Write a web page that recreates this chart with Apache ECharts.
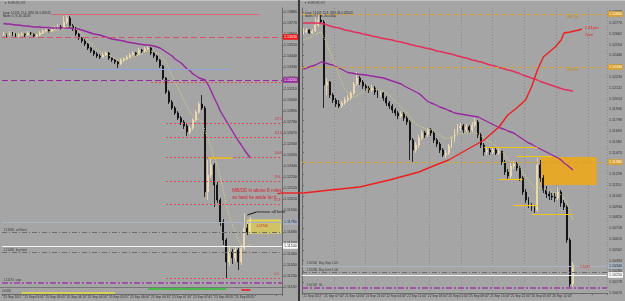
<!DOCTYPE html>
<html><head><meta charset="utf-8">
<script src="https://cdn.jsdelivr.net/npm/echarts@6/dist/echarts.min.js"></script>
<style>html,body{margin:0;padding:0;background:#a5a5a5;overflow:hidden}#c{width:625px;height:301px}</style>
</head><body><div id="c"></div><script>
// ---------------- DATA ----------------
// Left panel (EURUSD M5): [open, close, low, high]
const leftCandles = [
[1.1365,1.1366,1.1364,1.1368],[1.1366,1.1365,1.1363,1.1367],[1.1365,1.1367,1.1364,1.1369],[1.1367,1.1366,1.1364,1.1368],
[1.1366,1.1364,1.1362,1.1367],[1.1364,1.1365,1.1363,1.1367],[1.1365,1.1366,1.1364,1.1368],[1.1366,1.1365,1.1363,1.1367],
[1.1365,1.1367,1.1364,1.1369],[1.1367,1.1366,1.1365,1.1368],[1.1366,1.1364,1.1362,1.1367],[1.1364,1.1365,1.1363,1.1366],
[1.1365,1.1367,1.1364,1.1369],[1.1367,1.1369,1.1366,1.1371],[1.1369,1.1370,1.1368,1.1372],[1.1370,1.1369,1.1367,1.1371],
[1.1369,1.1371,1.1368,1.1373],[1.1371,1.1372,1.1370,1.1374],[1.1372,1.1373,1.1371,1.1376],[1.1373,1.1372,1.1370,1.1375],
[1.1372,1.1378,1.1371,1.1384],[1.1378,1.1382,1.1376,1.1385],[1.1382,1.1374,1.1372,1.1384],[1.1374,1.1372,1.1369,1.1376],
[1.1372,1.1366,1.1364,1.1373],[1.1366,1.1362,1.1360,1.1367],[1.1362,1.1359,1.1357,1.1363],[1.1359,1.1356,1.1354,1.1361],
[1.1356,1.1352,1.1350,1.1357],[1.1352,1.1349,1.1347,1.1353],[1.1349,1.1346,1.1344,1.1350],[1.1346,1.1344,1.1342,1.1348],
[1.1344,1.1343,1.1341,1.1346],[1.1343,1.1345,1.1342,1.1347],[1.1345,1.1347,1.1344,1.1349],[1.1347,1.1342,1.1340,1.1348],
[1.1342,1.1340,1.1338,1.1343],[1.1340,1.1338,1.1336,1.1341],[1.1338,1.1336,1.1332,1.1339],[1.1336,1.1340,1.1335,1.1342],
[1.1340,1.1341,1.1338,1.1343],[1.1341,1.1343,1.1340,1.1345],[1.1343,1.1345,1.1342,1.1347],[1.1345,1.1347,1.1344,1.1349],
[1.1347,1.1346,1.1344,1.1348],[1.1346,1.1350,1.1345,1.1352],[1.1350,1.1349,1.1347,1.1351],[1.1349,1.1351,1.1348,1.1353],
[1.1351,1.1352,1.1350,1.1354],[1.1352,1.1347,1.1345,1.1353],[1.1347,1.1344,1.1342,1.1348],[1.1344,1.1340,1.1338,1.1345],
[1.1340,1.1334,1.1332,1.1341],[1.1334,1.1322,1.1320,1.1335],[1.1322,1.1308,1.1306,1.1323],[1.1308,1.1298,1.1296,1.1310],
[1.1298,1.1292,1.1290,1.1300],[1.1292,1.1287,1.1285,1.1294],[1.1287,1.1282,1.1280,1.1289],[1.1282,1.1278,1.1275,1.1284],
[1.1278,1.1274,1.1271,1.1280],[1.1274,1.1268,1.1264,1.1276],[1.1268,1.1272,1.1266,1.1274],[1.1272,1.1280,1.1270,1.1282],
[1.1280,1.1288,1.1278,1.1290],[1.1288,1.1296,1.1286,1.1298],[1.1296,1.1292,1.1290,1.1305],[1.1292,1.1208,1.1203,1.1294],
[1.1208,1.1225,1.1200,1.1240],[1.1225,1.1235,1.1222,1.1242],[1.1235,1.1215,1.1193,1.1237],[1.1215,1.1200,1.1197,1.1218],
[1.1200,1.1178,1.1174,1.1202],[1.1178,1.1160,1.1155,1.1181],[1.1160,1.1138,1.1122,1.1162],[1.1138,1.1148,1.1134,1.1153],
[1.1148,1.1142,1.1136,1.1151],[1.1142,1.1150,1.1138,1.1154],[1.1150,1.1138,1.1130,1.1152],[1.1138,1.1152,1.1135,1.1155],
[1.1152,1.1172,1.1150,1.1187],[1.1172,1.1168,1.1165,1.1176],[1.1168,1.1180,1.1166,1.1183]
];
const leftSlowMA = [
1.13765,1.1376,1.1376,1.13755,1.1375,1.1375,1.13745,1.1374,1.1374,1.13735,1.1373,1.1373,1.1373,1.13725,1.13725,1.13725,
1.1372,1.1372,1.1372,1.1372,1.1372,1.1372,1.1372,1.13715,1.1371,1.1371,1.1370,1.1369,1.1368,1.1367,1.1366,1.13655,
1.1365,1.1364,1.1363,1.1362,1.1361,1.13605,1.1360,1.13595,1.1359,1.1358,1.13575,1.1357,1.13565,1.1356,1.13555,1.1355,
1.1355,1.13545,1.1354,1.1353,1.1352,1.1350,1.1348,1.1346,1.1344,1.1341,1.1339,1.1337,1.1334,1.1331,1.1329,1.1326,
1.1324,1.1322,1.1321,1.1320,1.1315,1.1309,1.1302,1.1296,1.1289,1.1284,1.1279,1.1274,1.1269,1.1264,1.1259,1.1255,
1.1250,1.1246,1.1242
];
const leftFastMA = [
1.1366,1.1366,1.1366,1.1366,1.1366,1.1366,1.1366,1.1366,1.1366,1.1366,1.1366,1.1366,1.1366,1.1367,1.1368,1.1368,
1.1369,1.1369,1.1370,1.1370,1.1372,1.1373,1.1374,1.1373,1.1371,1.1369,1.1366,1.1363,1.1360,1.1357,1.1354,1.1351,
1.1349,1.1347,1.1346,1.1345,1.1343,1.1342,1.1340,1.1340,1.1340,1.1341,1.1342,1.1343,1.1344,1.1345,1.1346,1.1348,
1.1349,1.1349,1.1348,1.1347,1.1345,1.1342,1.1337,1.1331,1.1325,1.1318,1.1312,1.1305,1.1299,1.1293,1.1288,1.1284,
1.1282,1.1280,1.1279,1.1268,1.1260,1.1252,1.1243,1.1234,1.1223,1.1210,1.1195,1.1184,1.1175,1.1167,1.1160,1.1155,
1.1153,1.1154,1.1156
];
const leftTimeLabels = ['25 Sep 2017','25 Sep 03:05','25 Sep 03:40','25 Sep 04:15','25 Sep 04:50','25 Sep 05:25',
  '25 Sep 06:00','25 Sep 06:35','25 Sep 07:10','25 Sep 07:45','25 Sep 08:20','25 Sep 08:55'];
const leftPriceTicks = [1.1113,1.1124,1.1135,1.1146,1.1157,1.1168,1.1179,1.1190,1.1201,1.1212,1.1223,1.1234,1.1245,
  1.1256,1.1267,1.1278,1.1289,1.1300,1.1311,1.1322,1.1333,1.1344,1.1355,1.1366,1.1377,1.1388];
const leftFibLevels = [1.1277,1.1263,1.1243,1.1219,1.1196,1.1122];
const leftFibNames = ['127.2','114.6','100.0','78.6','61.8','0.0'];

// Right panel (EURUSD H1): [open, close, low, high]
const rightCandles = [
[1.1266,1.1268,1.1265,1.1272],[1.1268,1.1270,1.1267,1.1272],[1.1270,1.1267,1.1266,1.1271],[1.1267,1.1269,1.1266,1.1271],
[1.1269,1.1275,1.1268,1.1283],[1.1275,1.1280,1.1273,1.1285],[1.1280,1.1278,1.1276,1.1286],[1.1278,1.1215,1.1192,1.1280],
[1.1215,1.1218,1.1205,1.1222],[1.1218,1.1205,1.1202,1.1219],[1.1205,1.1200,1.1197,1.1207],[1.1200,1.1196,1.1193,1.1202],
[1.1196,1.1194,1.1192,1.1200],[1.1194,1.1197,1.1192,1.1199],[1.1197,1.1200,1.1195,1.1203],[1.1200,1.1202,1.1198,1.1205],
[1.1202,1.1207,1.1200,1.1209],[1.1207,1.1216,1.1205,1.1218],[1.1216,1.1222,1.1214,1.1228],[1.1222,1.1218,1.1215,1.1224],
[1.1218,1.1214,1.1211,1.1220],[1.1214,1.1212,1.1209,1.1216],[1.1212,1.1210,1.1207,1.1214],[1.1210,1.1212,1.1208,1.1215],
[1.1212,1.1208,1.1205,1.1214],[1.1208,1.1205,1.1202,1.1210],[1.1205,1.1207,1.1203,1.1209],[1.1207,1.1202,1.1199,1.1208],
[1.1202,1.1197,1.1194,1.1204],[1.1197,1.1194,1.1191,1.1199],[1.1194,1.1190,1.1187,1.1196],[1.1190,1.1187,1.1184,1.1192],
[1.1187,1.1184,1.1181,1.1189],[1.1184,1.1186,1.1182,1.1189],[1.1186,1.1182,1.1179,1.1188],[1.1182,1.1178,1.1175,1.1184],
[1.1178,1.1160,1.1140,1.1180],[1.1160,1.1150,1.1138,1.1162],[1.1150,1.1155,1.1147,1.1158],[1.1155,1.1162,1.1152,1.1165],
[1.1162,1.1167,1.1160,1.1170],[1.1167,1.1165,1.1162,1.1169],[1.1165,1.1170,1.1163,1.1172],[1.1170,1.1167,1.1164,1.1172],
[1.1167,1.1160,1.1157,1.1169],[1.1160,1.1156,1.1153,1.1162],[1.1156,1.1150,1.1147,1.1158],[1.1150,1.1145,1.1143,1.1152],
[1.1145,1.1147,1.1142,1.1150],[1.1147,1.1154,1.1145,1.1156],[1.1154,1.1160,1.1152,1.1163],[1.1160,1.1168,1.1158,1.1171],
[1.1168,1.1172,1.1166,1.1176],[1.1172,1.1174,1.1169,1.1177],[1.1174,1.1170,1.1167,1.1176],[1.1170,1.1173,1.1168,1.1176],
[1.1173,1.1170,1.1167,1.1175],[1.1170,1.1175,1.1168,1.1178],[1.1175,1.1178,1.1173,1.1182],[1.1178,1.1165,1.1162,1.1180],
[1.1165,1.1155,1.1152,1.1167],[1.1155,1.1148,1.1144,1.1157],[1.1148,1.1150,1.1145,1.1153],[1.1150,1.1148,1.1145,1.1152],
[1.1148,1.1150,1.1146,1.1153],[1.1150,1.1147,1.1145,1.1152],[1.1147,1.1149,1.1145,1.1152],[1.1149,1.1138,1.1135,1.1150],
[1.1138,1.1128,1.1125,1.1140],[1.1128,1.1124,1.1121,1.1131],[1.1124,1.1134,1.1122,1.1137],[1.1134,1.1136,1.1131,1.1139],
[1.1136,1.1132,1.1129,1.1138],[1.1132,1.1122,1.1119,1.1134],[1.1122,1.1108,1.1105,1.1124],[1.1108,1.1100,1.1097,1.1111],
[1.1100,1.1095,1.1092,1.1103],[1.1095,1.1092,1.1089,1.1097],[1.1092,1.1090,1.1087,1.1094],[1.1090,1.1135,1.1088,1.1142],
[1.1135,1.1122,1.1118,1.1140],[1.1122,1.1110,1.1107,1.1125],[1.1110,1.1106,1.1102,1.1114],[1.1106,1.1104,1.1100,1.1109],
[1.1104,1.1103,1.1100,1.1107],[1.1103,1.1102,1.1098,1.1107],[1.1102,1.1108,1.1100,1.1113],[1.1108,1.1097,1.1093,1.1110],
[1.1097,1.1093,1.1090,1.1100],[1.1093,1.1060,1.1057,1.1095],[1.1060,1.1016,1.1013,1.1062],[1.1016,1.1035,1.1013,1.1038]
];
const rightLongMA = [
1.1277,1.1277,1.1277,1.1277,1.1277,1.1277,1.12765,1.1276,1.1275,1.1274,1.1273,1.12725,1.1272,1.1271,1.1270,1.12695,
1.1269,1.1268,1.12675,1.1267,1.1266,1.12655,1.1265,1.1264,1.12635,1.1263,1.1262,1.12615,1.1261,1.12605,1.1260,1.1259,
1.12585,1.1258,1.1257,1.12565,1.12555,1.1255,1.1254,1.12535,1.1253,1.1252,1.12515,1.1251,1.1250,1.1249,1.12485,1.1248,
1.1247,1.12465,1.1246,1.1245,1.1244,1.12435,1.12425,1.1242,1.1241,1.1240,1.12395,1.12385,1.1238,1.1237,1.1236,1.1235,
1.12345,1.12335,1.12325,1.1232,1.1231,1.1230,1.12295,1.12285,1.12275,1.12265,1.1225,1.1224,1.1223,1.1222,1.1221,1.1220,
1.12185,1.12175,1.12165,1.12155,1.12145,1.12135,1.12125,1.12115,1.12105,1.1210,1.12095,1.1209
];
const rightSlowMA = [
1.1231,1.1232,1.1233,1.1234,1.1235,1.12365,1.1238,1.12375,1.12365,1.12355,1.1235,1.12335,1.1232,1.12305,1.1229,1.12275,
1.1227,1.12265,1.1226,1.12255,1.12255,1.1225,1.12245,1.1224,1.12235,1.1223,1.12225,1.1222,1.1221,1.1220,1.1219,1.1218,
1.1217,1.1216,1.1214,1.12125,1.1211,1.12095,1.1208,1.12065,1.1204,1.1201,1.11985,1.1197,1.1196,1.11945,1.1193,1.1192,
1.1191,1.11895,1.11885,1.1187,1.11865,1.1186,1.11855,1.1185,1.11845,1.1184,1.11835,1.1183,1.11815,1.1180,1.11785,1.1177,
1.11755,1.1174,1.11725,1.11715,1.11705,1.1169,1.1168,1.1167,1.1165,1.1163,1.1161,1.1159,1.1157,1.1156,1.1154,1.11525,
1.1151,1.11495,1.1148,1.11465,1.1145,1.11435,1.1142,1.1140,1.1137,1.1135,1.11325,1.1130
];
const rightFastMA = [
1.1260,1.1261,1.1262,1.1263,1.1265,1.1267,1.1268,1.1262,1.1255,1.1248,1.1240,1.1232,1.1224,1.1217,1.1211,1.1207,
1.1204,1.1203,1.1204,1.1206,1.1208,1.1210,1.1211,1.1211,1.1211,1.1210,1.1210,1.1209,1.1207,1.1205,1.1202,1.1199,
1.1196,1.1193,1.1190,1.1187,1.1183,1.1179,1.1176,1.1174,1.1173,1.1172,1.1171,1.1170,1.1169,1.1167,1.1165,1.1163,
1.1162,1.1162,1.1163,1.1164,1.1165,1.1166,1.1166,1.1167,1.1167,1.1167,1.1167,1.1166,1.1164,1.1162,1.1160,1.1158,
1.1156,1.1154,1.1152,1.1149,1.1145,1.1141,1.1139,1.1137,1.1135,1.1132,1.1128,1.1124,1.1120,1.1116,1.1112,1.1112,
1.1112,1.1111,1.1110,1.1109,1.1108,1.1107,1.1107,1.1105,1.1102,1.1097,1.1088,1.1080
];
const rightTimeLabels = ['21 Sep 2017','21 Sep 07:00','21 Sep 14:00','21 Sep 21:00','22 Sep 04:00','22 Sep 11:00',
  '22 Sep 18:00','25 Sep 01:00','25 Sep 08:00','25 Sep 15:00','25 Sep 22:00','26 Sep 05:00','26 Sep 12:00'];
const rightPriceTicks = [1.10070,1.10178,1.10286,1.10394,1.10502,1.10610,1.10718,1.10826,1.10934,1.11042,1.11150,
  1.11258,1.11366,1.11474,1.11582,1.11690,1.11798,1.11906,1.12014,1.12122,1.12230,1.12338,1.12446,1.12554,1.12662,
  1.12770,1.12878];
// hand-drawn red projection path on the right panel: [bar index, price]
const rightRedPath = [[-0.5,1.1107],[8.9,1.1110],[18.9,1.1113],[28.9,1.1120],[39.0,1.1128],[43.3,1.1133],
  [49.0,1.1140],[54.7,1.1150],[61.4,1.1160],[65.7,1.1173],[69.1,1.1185],[72.4,1.1192],[74.7,1.1200],[76.8,1.1213],
  [79.1,1.1230],[81.4,1.1243],[84.8,1.1253],[86.5,1.1260],[87.5,1.1267],[90.1,1.1268],[92.5,1.1270],[94.2,1.1271]];
// where the same red line leaves the left panel: [bar index, price]
const leftRedStart = [90.8, 1.1207];

// ---------------- BUILD ----------------
const LEFT_N = 93, RIGHT_N = 103, LEFT_END = LEFT_N - 1;
const leftCats = Array.from({length: LEFT_N}, (_, i) => String(i));
const rightCats = Array.from({length: RIGHT_N}, (_, i) => String(i));
const FONT = 'Liberation Sans', AXC = '#303030';
const f5 = v => v.toFixed(5);

function hl(p, color, type, width, box) {
  const d = {yAxis: p, lineStyle: {color, type, width}};
  d.label = box ? {show: true, position: 'end', distance: 1, formatter: f5(p), backgroundColor: box[0], color: box[1],
    fontSize: 3.6, fontFamily: FONT, padding: [1, 1, 0.5, 1]} : {show: false};
  return d;
}
function seg(x1, x2, p, color, type, width, p2) {
  return [{coord: [x1, p], lineStyle: {color, type, width}, label: {show: false}}, {coord: [x2, p2 === undefined ? p : p2]}];
}
function txt(x, p, s, color, size) {
  return {coord: [x, p], symbol: 'circle', symbolSize: 0, itemStyle: {color: 'transparent'},
    label: {show: true, position: [0, 0], align: 'left', verticalAlign: 'middle', formatter: s, color,
      fontSize: size || 4.5, fontFamily: FONT, lineHeight: 6}};
}
const xLabel = (labels) => ({show: true, interval: 6, align: 'left', margin: 2, fontSize: 3.2, color: AXC, fontFamily: FONT,
  formatter: (v, i) => labels[i / 7] || ''});
const yAx = (grid, min, max, ticks) => ({gridIndex: grid, type: 'value', position: 'right', min, max, scale: true,
  axisLine: {show: true, lineStyle: {color: '#6a6a6a', width: 1}},
  axisTick: {show: true, length: 2, lineStyle: {color: '#6a6a6a'}, customValues: ticks},
  axisLabel: {show: true, margin: 2, fontSize: 3.6, color: AXC, fontFamily: FONT, formatter: f5, customValues: ticks,
    showMinLabel: true, showMaxLabel: true},
  splitLine: {show: false}});

const RED_DOT = '#e8485a', PURPLE = '#98289f', ORANGE = '#d9a22e';

const leftLines = [
  seg(16.4, 84.5, 1.1386, '#e2616c', 'solid', 1),
  hl(1.1363, '#d9536c', [6, 3], 1, ['#f01818', '#ffffff']),
  seg(18.1, 74.6, 1.1331, '#8ea6dc', 'solid', 1.2),
  hl(1.1320, PURPLE, [6, 3], 1, [PURPLE, '#ffffff']),
  seg(48.7, LEFT_END, 1.1318, RED_DOT, [2, 2], 1),
  ...leftFibLevels.map(p => seg(53.6, LEFT_END, p, RED_DOT, [2, 2], 1)),
  seg(67.6, 75.9, 1.1242, '#f2c21a', 'solid', 1.5),
  hl(1.1178, '#a9b3c4', 'solid', 1, ['#a9b3c4', '#202020']),
  hl(1.1168, '#6c6c6c', [5, 2, 1, 2], 1),
  hl(1.1154, '#f4f4f4', 'solid', 1.2, ['#ffffff', '#202020']),
  hl(1.1148, '#6c6c6c', [5, 2, 1, 2], 1),
  hl(1.1117, '#a23ca8', [6, 2, 2, 2], 1.5),
  seg(81.2, 83.5, 1.1185, '#111111', 'solid', 1, 1.1188),
  seg(leftRedStart[0], LEFT_END, leftRedStart[1], '#f01e1e', 'solid', 1.4)
];
const leftTexts = [
  ...leftFibLevels.map((p, k) => txt(89.6, p + 0.00035, leftFibNames[k], '#d0303c', 3)),
  txt(76.2, 1.1209, 'MB/DD in above 8 miles', '#d82030', 4.6),
  txt(76.2, 1.1202, 'so hard be aside for it', '#d82030', 4.6),
  txt(83.6, 1.1188, 'remove all here', '#111111', 4.2),
  txt(84.2, 1.1174, '1.11740', '#d82030', 3.2),
  txt(0.2, 1.1170, '1.11680  sell limit', '#3a3a3a', 3),
  txt(0.2, 1.1150, '1.11480  buy limit', '#3a3a3a', 3),
  txt(0.2, 1.1120, '1.11170  stop', '#3a3a3a', 3)
];
const rightLines = [
  hl(1.1286, ORANGE, [5, 3], 1, [ORANGE, '#ffffff']),
  hl(1.1233, ORANGE, [5, 3], 1, [ORANGE, '#ffffff']),
  hl(1.1138, ORANGE, [5, 3], 1, [ORANGE, '#ffffff']),
  hl(1.1034, '#a9b3c4', 'solid', 1, ['#a9b3c4', '#202020']),
  hl(1.1028, '#6c6c6c', [5, 2, 1, 2], 1),
  hl(1.1025, '#f4f4f4', 'solid', 1.2, ['#ffffff', '#202020']),
  hl(1.1012, '#a23ca8', [6, 2, 2, 2], 1.5),
  seg(61.4, 79.1, 1.1153, '#f2c21a', 'solid', 1.2),
  seg(72.4, 84.1, 1.1144, '#f2c21a', 'solid', 1.2),
  seg(65.7, 74.1, 1.1121, '#f2c21a', 'solid', 1.2),
  seg(71.4, 79.1, 1.1095, '#f2c21a', 'solid', 1.2),
  seg(77.4, 90.8, 1.1086, '#f2c21a', 'solid', 1.2)
];
const rightTexts = [
  txt(88.5, 1.1283, 'S/H Tgt', '#b88a1c', 3.2),
  txt(88.5, 1.1230, 'S/H Ent', '#b88a1c', 3.2),
  txt(0.5, 1.1037, '1.10340  Buy Stop 1.00', '#3a3a3a', 3),
  txt(0.5, 1.1030, '1.10280  Buy Limit 1.00', '#3a3a3a', 3),
  txt(0.5, 1.1015, '1.10120  SL', '#3a3a3a', 3),
  txt(91.7, 1.1033, '\u2190 1.1033', '#e02020', 3.2)
];

const T = (id, x, y, text, size, fill) => ({id, type: 'text', x, y, style: {text, fontSize: size, fill, fontFamily: FONT}});
const baseGraphic = [
  {id: 'sep1', type: 'rect', shape: {x: 0, y: 287, width: 282, height: 1}, style: {fill: '#777'}},
  {id: 'sep2', type: 'rect', shape: {x: 298, y: 0, width: 2, height: 301}, style: {fill: '#3a3a3a'}},
  {id: 'top1', type: 'rect', shape: {x: 0, y: 0, width: 298, height: 1}, style: {fill: '#c4c4c4'}},
  {id: 'top2', type: 'rect', shape: {x: 300, y: 0, width: 325, height: 1}, style: {fill: '#c4c4c4'}},
  T('t1', 4, 1.5, '\u25BC EURUSD,M5', 3, '#4a4a4a'),
  T('t2', 3, 11.5, 'Loop: 1.1012; 12.3, 4291.33, 0.428.43', 2.8, '#2a2a2a'),
  T('t3', 3, 15, 'Boxes: 5, 9, 40, 40.00', 2.8, '#2a2a2a'),
  T('t4', 2, 289.5, '0.0000', 3, '#3a3a3a'),
  T('t5', 304, 1.5, '\u25BC EURUSD,H1', 3, '#4a4a4a'),
  T('t6', 305, 11.5, 'Loop: 1.1012; 12.3, 4291.33, 0.428.43', 2.8, '#2a2a2a'),
  T('t7', 305, 15, 'Boxes: 9, 9.00, 40.45000', 2.8, '#2a2a2a')
];

const option = {
  animation: false,
  backgroundColor: '#a5a5a5',
  grid: [
    {left: 2, top: 8, width: 280, height: 279},
    {left: 302, top: 8, width: 308, height: 285},
    {left: 2, top: 288, width: 280, height: 6}
  ],
  xAxis: [
    {gridIndex: 0, type: 'category', data: leftCats, axisLine: {show: false}, axisTick: {show: false}, axisLabel: {show: false}},
    {gridIndex: 1, type: 'category', data: rightCats, axisLine: {show: true, lineStyle: {color: '#6a6a6a'}},
      axisTick: {show: true, interval: 6, length: 2, lineStyle: {color: '#6a6a6a'}}, axisLabel: xLabel(rightTimeLabels)},
    {gridIndex: 2, type: 'category', data: leftCats, axisLine: {show: true, lineStyle: {color: '#6a6a6a'}},
      axisTick: {show: true, interval: 6, length: 2, lineStyle: {color: '#6a6a6a'}}, axisLabel: xLabel(leftTimeLabels)},
    {gridIndex: 1, type: 'value', min: 0, max: 9.6, interval: 1, position: 'top', axisLine: {show: false},
      axisTick: {show: false}, axisLabel: {show: false}, splitLine: {show: true, lineStyle: {color: '#8a8a8a', type: [1, 2]}}}
  ],
  yAxis: [
    yAx(0, 1.1113, 1.1392, leftPriceTicks),
    yAx(1, 1.1007, 1.1292, rightPriceTicks),
    {gridIndex: 2, type: 'value', min: 0, max: 1, position: 'right', axisLine: {show: true, lineStyle: {color: '#6a6a6a'}},
      axisTick: {show: false}, axisLabel: {show: false}, splitLine: {show: false}}
  ],
  graphic: baseGraphic,
  series: [
    {type: 'candlestick', name: 'leftPrice', xAxisIndex: 0, yAxisIndex: 0, data: leftCandles, barWidth: 1.4, z: 3,
      itemStyle: {color: '#f3ddb0', color0: '#050505', borderColor: '#f3ddb0', borderColor0: '#050505', borderWidth: 0.8}},
    {type: 'line', name: 'leftSlow', xAxisIndex: 0, yAxisIndex: 0, data: leftSlowMA, symbol: 'none', z: 4,
      lineStyle: {color: PURPLE, width: 1.4},
      markLine: {silent: true, precision: 5, symbol: ['none', 'none'], data: leftLines},
      markArea: {silent: true, data: [[{coord: [81.2, 1.1180], itemStyle: {color: 'rgba(214,200,90,0.85)', borderColor: '#eadc48', borderWidth: 1}}, {coord: [92, 1.1167]}]]}},
    {type: 'line', name: 'leftFast', xAxisIndex: 0, yAxisIndex: 0, data: leftFastMA, symbol: 'none', z: 4,
      lineStyle: {color: '#e4dc74', width: 1, type: [1, 1.5]},
      markPoint: {silent: true, data: leftTexts}},
    {type: 'candlestick', name: 'rightPrice', xAxisIndex: 1, yAxisIndex: 1, data: rightCandles, barWidth: 1.4, z: 3,
      itemStyle: {color: '#f3ddb0', color0: '#050505', borderColor: '#f3ddb0', borderColor0: '#050505', borderWidth: 0.8}},
    {type: 'line', name: 'rightLong', xAxisIndex: 1, yAxisIndex: 1, data: rightLongMA, symbol: 'none', z: 4,
      lineStyle: {color: '#e32f5c', width: 1.4}},
    {type: 'line', name: 'rightSlow', xAxisIndex: 1, yAxisIndex: 1, data: rightSlowMA, symbol: 'none', z: 4,
      lineStyle: {color: PURPLE, width: 1.4},
      markLine: {silent: true, precision: 5, symbol: ['none', 'none'], data: rightLines},
      markArea: {silent: true, data: [[{coord: [79.8, 1.1143], itemStyle: {color: 'rgba(238,168,24,0.88)'}}, {coord: [99.2, 1.1115]}]]}},
    {type: 'line', name: 'rightFast', xAxisIndex: 1, yAxisIndex: 1, data: rightFastMA, symbol: 'none', z: 4,
      lineStyle: {color: '#e4dc74', width: 1, type: [1, 1.5]},
      markPoint: {silent: true, data: rightTexts}},
    {type: 'line', name: 'redPath', xAxisIndex: 1, yAxisIndex: 1, clip: false, z: 6,
      data: rightRedPath.map((d, k) => k === rightRedPath.length - 1 ?
        {value: d, symbol: 'arrow', symbolSize: [5, 6], symbolRotate: -80, itemStyle: {color: '#f01e1e'}} : {value: d, symbol: 'none'}),
      showSymbol: true, lineStyle: {color: '#f01e1e', width: 1.4},
      markPoint: {silent: true, data: [txt(95.0, 1.1272, '2.41pm', '#f01e1e', 4.2), txt(95.0, 1.1265, '7pm', '#f01e1e', 4.2)]}},
    {type: 'line', name: 'indicator', xAxisIndex: 2, yAxisIndex: 2, data: [], symbol: 'none',
      markLine: {silent: true, precision: 3, symbol: ['none', 'none'], data: [
        seg(5.5, 37.0, 0.17, '#e6e040', 'solid', 1.5),
        seg(47.7, 73.6, 0.83, '#30c030', 'solid', 1.5),
        seg(79.2, 82.2, 0.67, '#f01818', 'solid', 1.5)
      ]}}
  ]
};
const chart = echarts.init(document.getElementById('c'), null, {renderer: 'canvas', width: 625, height: 301});
chart.setOption(option);
// red line crossing from the left panel into the right panel (positions from the library's scales)
const pa = chart.convertToPixel({xAxisIndex: 0, yAxisIndex: 0}, [LEFT_END, leftRedStart[1]]);
const pb = chart.convertToPixel({xAxisIndex: 1, yAxisIndex: 1}, rightRedPath[0]);
chart.setOption({graphic: [{id: 'redLink', type: 'line', z: 10, shape: {x1: pa[0], y1: pa[1], x2: pb[0], y2: pb[1]},
  style: {stroke: '#f01e1e', lineWidth: 1.4}}]});
</script></body></html>
